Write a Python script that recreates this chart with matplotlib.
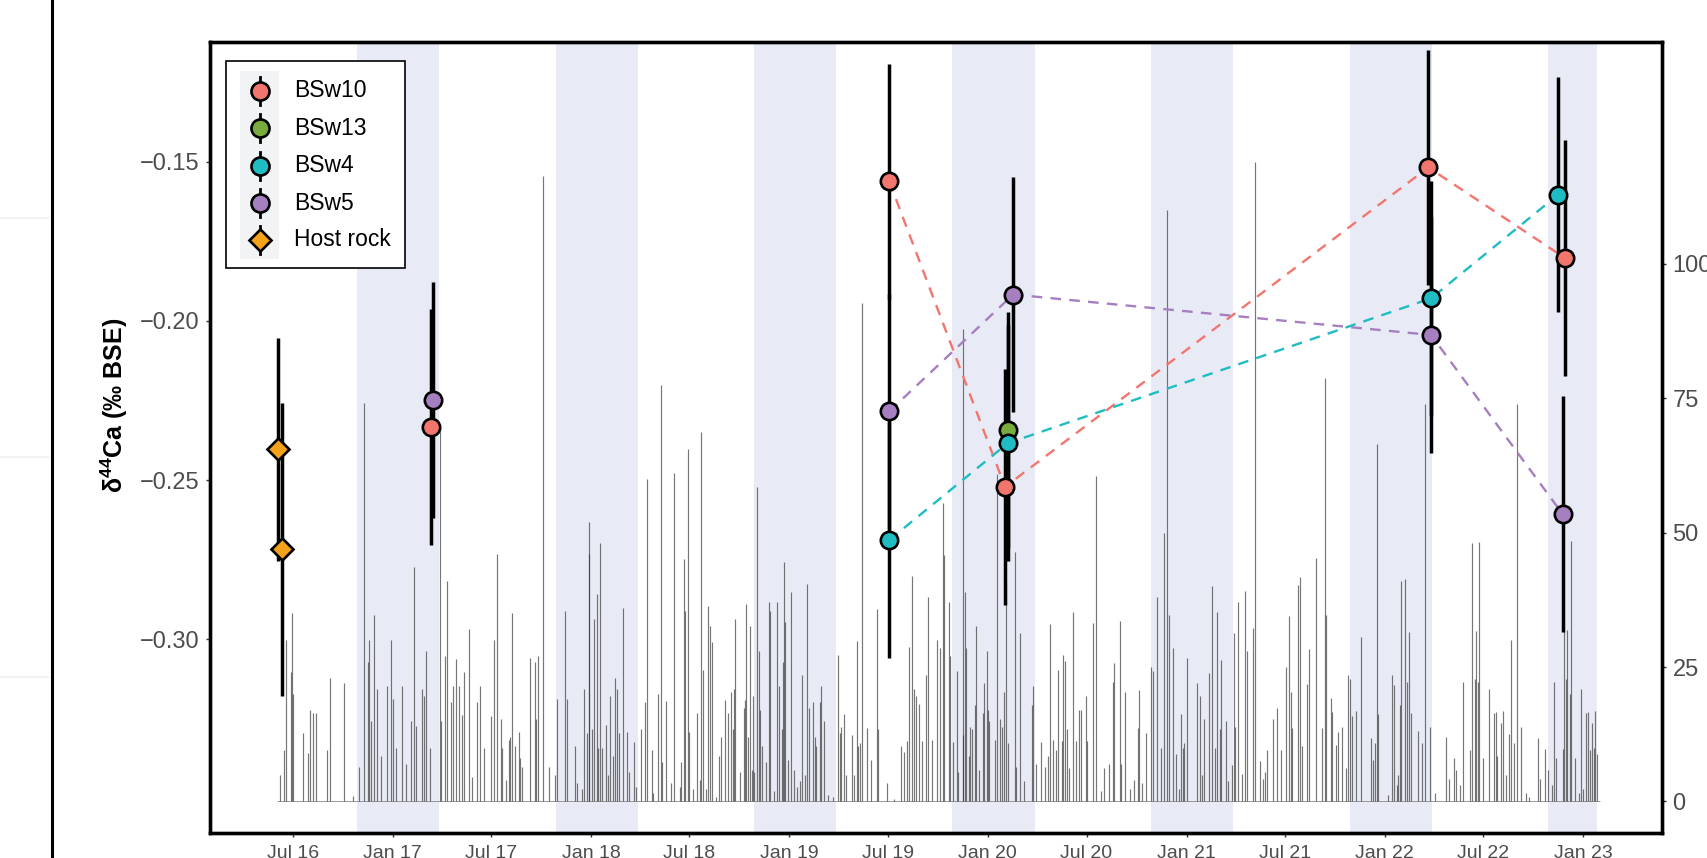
import numpy as np
import matplotlib
matplotlib.use("Agg")
import matplotlib.pyplot as plt
import matplotlib.dates as mdates
from matplotlib.lines import Line2D
from matplotlib.patches import Rectangle
from matplotlib.ticker import FuncFormatter

plt.rcParams["font.family"] = ["Liberation Sans", "DejaVu Sans"]
plt.rcParams["mathtext.fontset"] = "custom"
plt.rcParams["mathtext.rm"] = "Liberation Sans"
plt.rcParams["mathtext.bf"] = "Liberation Sans:bold"

# ---------------------------------------------------------------- data
ORIGIN = np.datetime64("2016-07-01")

# daily precipitation: day offset from 1 Jul 2016, amount (mm)
rain_day = [
    -24, -16, -13, -3, -1, 0, 20, 29, 32, 37, 43, 63, 69, 95, 112, 122, 131, 138, 140, 144,
    150, 156, 163, 173, 181, 185, 190, 201, 209, 218, 223, 228, 238, 242, 246, 253, 271, 274,
    280, 284, 292, 296, 300, 307, 311, 315, 325, 330, 339, 344, 353, 366, 371, 377,
    383, 386, 393, 398, 400, 404, 409, 416, 419, 422, 436, 446, 448, 451, 460, 472, 483, 487,
    502, 505, 520, 524, 533, 537, 542, 545, 546, 551, 554, 561, 562, 566, 570, 577, 581, 585,
    589, 593, 597, 600, 608, 616, 619, 628, 632, 642, 649, 653, 661, 664, 673, 678, 680, 688,
    697, 701, 712, 715, 720, 723, 728, 730, 737, 745, 749, 752, 755, 760, 765, 769, 771, 780,
    785, 788, 796,
    802, 807, 810, 813, 815, 824, 830, 832, 834, 838, 842, 845, 848, 850, 855, 858, 860, 863,
    871, 876, 879, 885, 892, 895, 900, 903, 905, 907, 912, 918, 922, 929, 933, 938, 943, 947,
    951, 957, 961, 964, 971, 973, 978, 986, 995, 1003, 1007, 1010, 1014, 1019, 1029, 1033,
    1038, 1041, 1044, 1047, 1057, 1065, 1075, 1078, 1093, 1107, 1119, 1126, 1130, 1134, 1139,
    1144, 1148, 1152, 1158, 1165, 1170, 1176, 1185, 1191, 1196, 1199, 1208, 1210,
    1216, 1222, 1225, 1233, 1234, 1238, 1240, 1244, 1246, 1250, 1255, 1258, 1263, 1270, 1273,
    1277, 1280, 1282, 1293, 1296, 1301, 1305, 1309, 1313, 1316, 1329, 1332, 1338, 1346, 1360,
    1362, 1368, 1378, 1385, 1390, 1393, 1400, 1404, 1408, 1415, 1418, 1422, 1425, 1428, 1436,
    1442, 1447, 1450, 1460, 1461, 1472, 1478, 1488, 1494, 1503, 1509, 1512, 1522, 1525, 1531,
    1541, 1549, 1555, 1558, 1563, 1571, 1579, 1584, 1590, 1598, 1603, 1610, 1613, 1621, 1625,
    1631, 1634, 1638, 1641, 1645, 1665, 1669, 1674, 1678, 1686, 1692, 1698, 1702, 1706, 1709,
    1717, 1722, 1729, 1732, 1735, 1740, 1748, 1752, 1756, 1767, 1771, 1780, 1786, 1789, 1793,
    1804, 1812, 1818, 1828, 1833, 1837, 1840, 1850, 1853, 1857, 1866, 1870, 1883, 1894, 1900,
    1902, 1911, 1913, 1920, 1924, 1931, 1939, 1943, 1946, 1950, 1956, 1966, 1985, 1988, 1992,
    1996, 1998, 2016, 2023, 2026, 2032, 2040,
    2034, 2038, 2047, 2050, 2054, 2059, 2071, 2078, 2084, 2093, 2103, 2123, 2128, 2137, 2141,
    2148, 2153, 2166, 2171, 2175, 2178, 2182, 2184, 2191, 2202, 2210, 2214, 2217, 2223, 2228,
    2233, 2239, 2243, 2247, 2254, 2261, 2270, 2276, 2292, 2295, 2305, 2311, 2318, 2322, 2325,
    2337, 2340, 2343, 2346, 2350, 2352, 2360, 2367, 2371, 2375, 2381, 2384, 2387, 2391, 2394,
    2397, 2400,
]
rain_mm = [
    5, 9.6, 30, 24, 35, 20, 12.7, 9, 17, 16.5, 16.5, 9.6, 23, 22, 1, 6.5, 74, 26, 30, 15,
    34.6, 21, 8.5, 21.5, 30, 19, 10, 21.5, 7, 15, 43.6, 14, 21, 19.6, 28, 10, 69, 15,
    27, 41, 18.5, 21.5, 26.5, 21.5, 16, 24, 32, 4.6, 18.5, 21.5, 10, 15.8, 30, 46,
    15.4, 10, 4, 11.5, 12, 35, 10.4, 12.9, 8, 6.4, 26.6, 26, 15.4, 27, 116.2, 6.5, 5, 19,
    35.4, 19, 10.4, 3.5, 2.3, 21, 12.7, 46, 52, 13.5, 34, 38.6, 10, 48, 10, 14.2, 5, 19.6,
    8.5, 23, 21, 12.7, 36, 13, 5.4, 11, 2.7, 13.5, 18.5, 60, 9.6, 1.5, 20, 77.5, 7.3, 18.7,
    3.5, 61, 2.7, 7.3, 45, 35.4, 65.6, 12.9, 2.3, 16.5, 4, 68.7, 24.4, 2.3, 36.4, 32.6, 29.6, 0.8,
    8.5, 12, 18.9,
    16.5, 20.4, 13.5, 21, 34, 5.4, 17.3, 18.9, 36.7, 12, 32.6, 5.8, 19.6, 5.4, 58.4, 28, 17, 10.4,
    7.3, 37, 35.4, 2, 37, 21.5, 13.5, 26, 44.6, 33.3, 7.7, 38.9, 5.8, 2.7, 3.8, 23.6, 5, 40.4,
    17.3, 18.5, 12, 10.4, 18.5, 21.5, 15, 1.2, 0.8, 27.3, 12.7, 13.9, 16.2, 5, 12.3, 5,
    29.8, 10.4, 10.8, 92.6, 13.6, 7.7, 35.8, 13.5, 3.5, 0.4, 10.4, 9.2, 11.2, 28.7, 42,
    21, 19.6, 18.2, 11.2, 23.5, 38.1, 11.5, 30, 28.5, 55.4, 45.8, 37, 27,
    11, 24.2, 5.4, 87.8, 12.3, 39, 28.5, 8.5, 13.9, 13.5, 18, 32.6, 5.8, 16.5, 22,
    28, 17, 15, 11.5, 60.8, 15.4, 13.9, 20.4, 41, 10.8, 46.3, 6.5, 31.3, 3.8, 18,
    21.5, 7, 11, 6.5, 8.5, 33, 11.5, 9.6, 24.4, 11.2, 27.3, 26.2, 13.5, 6.2, 35.2,
    11.2, 17, 17, 19.6, 11.2, 33.1, 60.6, 2, 6.2, 7, 22.3, 25.8, 33.5, 7, 20.4,
    2.3, 4, 13.6, 20.8, 3.5, 12.7, 25, 24.2, 38.1, 10, 50, 110, 34.6, 28.5, 8.8,
    2.3, 16.2, 10, 10.8, 26.6, 22, 19.6, 5, 15.4, 23.9, 40, 10, 35.3, 13.5, 26.3,
    14.9, 3.8, 6.7, 31.3, 13.9, 37, 5.2, 39.1, 28, 32.3, 118.9, 7.5, 4.2, 5.4, 9.5,
    15.4, 17.3, 9.5, 25, 34.4, 20.4, 13.6, 40.3, 41.7, 10.4, 21.8, 28.3, 45.2, 13.6, 78.7,
    34.6, 19.2, 16.7, 10.5, 12.9, 13.9, 6.2, 23.5, 22.7, 15.8, 16.9, 30.6, 11.8, 7.7, 10.8,
    66.4, 16.2, 1.2, 23.6, 21.7, 3, 41,
    5, 18, 41.3, 22.3, 31.6, 16.5, 13.1, 10.8, 73.9, 13.9, 1.5, 11.9, 4.2, 8, 5.8,
    3, 22.3, 9.6, 48.1, 22.7, 31.7, 22.3, 48.3, 8, 20.9, 16.5, 16.7, 8.5, 14.6, 16.9,
    5, 12.5, 30, 10.8, 73.9, 13.9, 1.5, 0.8, 11.8, 4.2, 9.8, 5.9, 3, 22.3, 8,
    9.8, 32, 22.7, 31.8, 20, 48.5, 8, 1.5, 21, 2.3, 16.5, 16.7, 9.6, 14.6, 10,
    16.9, 8.8,
]
record_start = "2016-06-03"
record_end = "2023-01-31"

# winter seasons (shaded)
winter_start = ["2016-10-28", "2017-10-28", "2018-10-28", "2019-10-28",
                "2020-10-28", "2021-10-28", "2022-10-28"]
winter_end = ["2017-03-28", "2018-03-28", "2019-03-28", "2020-03-28",
              "2021-03-28", "2022-03-28", "2023-01-27"]

# delta44Ca (permil vs BSE) by spring, with 2 sd uncertainty
springs = ["BSw10", "BSw13", "BSw4", "BSw5"]
spring_dates = {
    "BSw10": ["2017-03-13", "2019-07-04", "2020-02-02", "2022-03-22", "2022-11-29"],
    "BSw13": ["2020-02-08"],
    "BSw4": ["2019-07-04", "2020-02-07", "2022-03-27", "2022-11-16"],
    "BSw5": ["2017-03-16", "2019-07-04", "2020-02-17", "2022-03-27", "2022-11-24"],
}
spring_d44ca = {
    "BSw10": [-0.2334, -0.1562, -0.2521, -0.1518, -0.1803],
    "BSw13": [-0.2342],
    "BSw4": [-0.2688, -0.2384, -0.1929, -0.1603],
    "BSw5": [-0.2249, -0.2284, -0.1917, -0.2044, -0.2606],
}
spring_err = {
    "BSw10": [0.037, 0.037, 0.037, 0.037, 0.037],
    "BSw13": [0.037],
    "BSw4": [0.037, 0.037, 0.037, 0.037],
    "BSw5": [0.037, 0.037, 0.037, 0.037, 0.037],
}
host_dates = ["2016-06-04", "2016-06-11"]
host_d44ca = [-0.2403, -0.2717]
host_err = [0.035, 0.046]

# monitoring campaign from which consecutive samples are joined
series_from = "2019-01-01"

colors = {"BSw10": "#F2766E", "BSw13": "#78AC3C", "BSw4": "#1FBCC4",
          "BSw5": "#A57FC0", "Host rock": "#F5A21B"}

# ---------------------------------------------------------------- figure
W, H = 1707, 858
fig = plt.figure(figsize=(W / 100, H / 100), dpi=100)
AX_L, AX_R, AX_T, AX_B = 210, 1662, 42, 833
ax = fig.add_axes([AX_L / W, 1 - AX_B / H, (AX_R - AX_L) / W, (AX_B - AX_T) / H])
ax2 = ax.twinx()

# neighbouring panel edge
fig.add_artist(Line2D([52 / W, 52 / W], [0, 1], transform=fig.transFigure,
                      color="black", lw=2.2))
for yy in (218, 457, 677):
    fig.add_artist(Line2D([0, 48 / W], [1 - yy / H] * 2, transform=fig.transFigure,
                          color="#F1F1F1", lw=1.5))

# winter shading
for s, e in zip(winter_start, winter_end):
    ax.axvspan(np.datetime64(s), np.datetime64(e), color="#E8EBF5", lw=0, zorder=0)

# precipitation bars
rain_dates = ORIGIN + np.array(rain_day).astype("timedelta64[D]")
ax.hlines(0, np.datetime64(record_start), np.datetime64(record_end),
          color="#8a8a8a", lw=0.6, zorder=1)
ax.vlines(rain_dates, 0, rain_mm, colors="#2e2e2e", alpha=0.65, linewidth=0.85, zorder=2)

# dashed connectors
for name in springs:
    d = np.array(spring_dates[name], dtype="datetime64[D]")
    v = np.array(spring_d44ca[name])
    keep = d >= np.datetime64(series_from)
    if keep.sum() > 1:
        ax2.plot(d[keep], v[keep], ls=(0, (4.5, 3.5)), lw=1.7, color=colors[name], zorder=2)

# error bars then points
for name in springs:
    d = np.array(spring_dates[name], dtype="datetime64[D]")
    ax2.errorbar(d, spring_d44ca[name], yerr=spring_err[name], fmt="none",
                 ecolor="black", elinewidth=2.5, capsize=0, zorder=3)
hd = np.array(host_dates, dtype="datetime64[D]")
ax2.errorbar(hd, host_d44ca, yerr=host_err, fmt="none", ecolor="black",
             elinewidth=2.5, capsize=0, zorder=3)
for name in springs:
    d = np.array(spring_dates[name], dtype="datetime64[D]")
    ax2.plot(d, spring_d44ca[name], ls="none", marker="o", ms=12.5, mfc=colors[name],
             mec="black", mew=1.9, zorder=4)
ax2.plot(hd, host_d44ca, ls="none", marker="D", ms=11, mfc=colors["Host rock"],
         mec="black", mew=1.9, zorder=4)

# ---------------------------------------------------------------- axes
ax.set_xlim(np.datetime64("2016-01-31"), np.datetime64("2023-05-26"))
ax.set_ylim(-5.86, 141.2)
ax2.set_ylim(-0.3608, -0.1124)

ax.yaxis.tick_right()
ax2.yaxis.tick_left()
ax.set_yticks([0, 25, 50, 75, 100])
ax2.set_yticks([-0.30, -0.25, -0.20, -0.15])
ax2.yaxis.set_major_formatter(FuncFormatter(lambda v, p: f"{v:.2f}".replace("-", "\u2212")))

ax.xaxis.set_major_locator(mdates.MonthLocator(bymonth=[1, 7]))
ax.xaxis.set_major_formatter(mdates.DateFormatter("%b %y"))

tick_kw = dict(length=2.6, width=1.0, color="#333333", labelcolor="#4D4D4D")
ax.tick_params(axis="x", labelsize=14, pad=6, **tick_kw)
ax.tick_params(axis="y", labelsize=17, pad=5, **tick_kw)
ax2.tick_params(axis="y", labelsize=17, pad=5, **tick_kw)

for a in (ax, ax2):
    for sp in a.spines.values():
        sp.set_linewidth(2.4)
        sp.set_color("black")

fig.text(114 / W, 1 - 405 / H, "δ$^{\\mathbf{44}}$Ca (‰ BSE)", rotation=90,
         ha="center", va="center", fontweight="bold", fontsize=18, color="black")

# ---------------------------------------------------------------- legend
def fx(px):
    return (px - AX_L) / (AX_R - AX_L)


def fy(py):
    return (AX_B - py) / (AX_B - AX_T)


T = ax2.transAxes
ax2.add_patch(Rectangle((fx(226), fy(268)), fx(405) - fx(226), fy(61) - fy(268),
                        transform=T, facecolor="white", edgecolor="black", lw=1.2,
                        zorder=6, clip_on=False))
ax2.add_patch(Rectangle((fx(240), fy(259)), fx(279) - fx(240), fy(71) - fy(259),
                        transform=T, facecolor="#F2F3F5", edgecolor="none",
                        zorder=6.1, clip_on=False))
legend_labels = springs + ["Host rock"]
row_y = [90.7, 128.3, 165.7, 203.3, 240.0]
for lab, py in zip(legend_labels, row_y):
    ax2.plot([fx(259.5)] * 2, [fy(py + 14), fy(py - 14)], transform=T, color="black",
             lw=2.0, zorder=6.2, clip_on=False)
    ax2.plot([fx(259.5)], [fy(py)], transform=T, ls="none",
             marker="D" if lab == "Host rock" else "o",
             ms=11 if lab == "Host rock" else 13, mfc=colors[lab], mec="black",
             mew=1.9, zorder=6.3, clip_on=False)
    ax2.text(fx(294), fy(py), lab, transform=T, ha="left", va="center", fontsize=16.5,
             color="black", zorder=6.4)

fig.savefig("out.png", dpi=100, facecolor="white")
